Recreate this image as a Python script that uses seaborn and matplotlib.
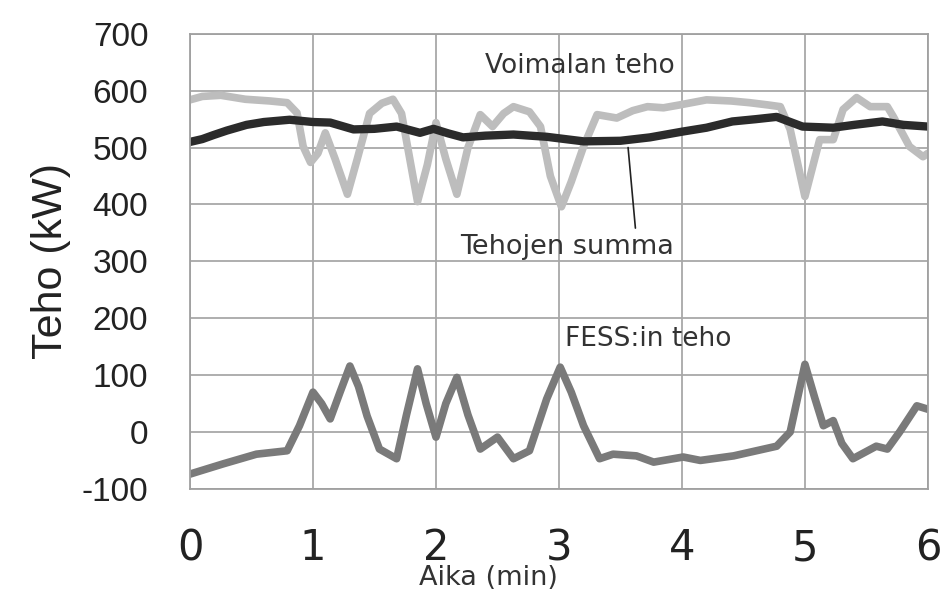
# Voimalan, FESS:n ja summan teho ajan funktiona

import pandas as pd
import matplotlib.pyplot as plt
import seaborn as sns

# luetut arvot kuvasta (aika min, teho kW)
voimala_t = [0, 0.1, 0.25, 0.45, 0.65, 0.79, 0.87, 0.92, 0.98, 1.04, 1.1, 1.18, 1.28, 1.36, 1.46,
             1.56, 1.65, 1.72, 1.85, 1.93, 2.0, 2.08, 2.17, 2.26, 2.36, 2.46, 2.55, 2.63, 2.76,
             2.85, 2.93, 3.02, 3.1, 3.2, 3.31, 3.47, 3.6, 3.72, 3.85, 3.98, 4.2, 4.4, 4.55, 4.7,
             4.8, 4.88, 5.0, 5.12, 5.23, 5.31, 5.42, 5.53, 5.67, 5.72, 5.85, 5.96, 6.0]
voimala_p = [584, 590, 592, 585, 582, 579, 561, 502, 474, 490, 526, 480, 418, 480, 560,
             578, 585, 560, 405, 470, 544, 480, 418, 500, 558, 537, 560, 572, 563,
             537, 450, 396, 440, 502, 558, 552, 565, 572, 570, 575, 584, 582, 579, 575,
             572, 532, 414, 514, 514, 567, 588, 572, 572, 554, 502, 484, 490]

summa_t = [0, 0.1, 0.19, 0.3, 0.46, 0.6, 0.81, 1.0, 1.14, 1.33, 1.5, 1.68, 1.87, 1.98, 2.1,
           2.22, 2.4, 2.63, 2.9, 3.2, 3.5, 3.74, 4.0, 4.2, 4.41, 4.6, 4.77, 4.98, 5.23, 5.4,
           5.63, 5.8, 6.0]
summa_p = [510, 515, 522, 530, 540, 545, 549, 545, 544, 532, 533, 537, 526, 533, 525,
           518, 521, 523, 519, 511, 512, 518, 528, 535, 546, 550, 554, 537, 535, 540,
           546, 540, 537]

fess_t = [0, 0.27, 0.54, 0.79, 0.89, 1.0, 1.07, 1.14, 1.22, 1.3, 1.37, 1.44, 1.54, 1.68, 1.76,
          1.85, 1.92, 2.0, 2.08, 2.17, 2.26, 2.36, 2.5, 2.63, 2.76, 2.9, 3.01, 3.1, 3.2, 3.33,
          3.44, 3.63, 3.77, 4.01, 4.15, 4.42, 4.77, 4.88, 5.0, 5.08, 5.15, 5.23, 5.3, 5.39,
          5.58, 5.67, 5.77, 5.91, 6.0]
fess_p = [-74, -56, -39, -33, 11, 70, 50, 23, 70, 116, 80, 28, -30, -47, 30,
          111, 50, -9, 50, 96, 30, -30, -9, -47, -33, 58, 114, 70, 11, -47,
          -39, -42, -53, -44, -50, -42, -25, 0, 119, 60, 11, 20, -20, -47,
          -25, -30, 0, 46, 40]

x_ticks = [0, 1, 2, 3, 4, 5, 6]
y_ticks = [-100, 0, 100, 200, 300, 400, 500, 600, 700]

df_v = pd.DataFrame({'aika': voimala_t, 'teho': voimala_p})
df_s = pd.DataFrame({'aika': summa_t, 'teho': summa_p})
df_f = pd.DataFrame({'aika': fess_t, 'teho': fess_p})

sns.set_style('white')
plt.rcParams['axes.unicode_minus'] = False

fig = plt.figure(figsize=(9.43, 5.94), dpi=100)
ax = fig.add_axes([0.2015, 0.177, 0.7825, 0.766])

# viivat
sns.lineplot(x='aika', y='teho', data=df_v, color='#bdbdbd', linewidth=5.5, ax=ax)
sns.lineplot(x='aika', y='teho', data=df_f, color='#7a7a7a', linewidth=5.5, ax=ax)
sns.lineplot(x='aika', y='teho', data=df_s, color='#2b2b2b', linewidth=6, ax=ax)

ax.set_xlim(0, 6)
ax.set_ylim(-100, 700)
ax.set_xticks(x_ticks)
ax.set_yticks(y_ticks)
ax.grid(True, color='#a8a8a8', linewidth=1.3)
ax.set_axisbelow(True)
for s in ax.spines.values():
    s.set_color('#a0a0a0')
    s.set_linewidth(1.3)

ax.tick_params(axis='y', length=0, labelsize=24, pad=30, labelcolor='#222222')
ax.tick_params(axis='x', length=7, direction='inout', color='#a0a0a0', labelsize=30,
               pad=24, labelcolor='#222222')
for lab in ax.get_yticklabels():
    lab.set_family(['Liberation Sans', 'DejaVu Sans'])
for lab in ax.get_xticklabels():
    lab.set_family(['Liberation Sans Narrow', 'DejaVu Sans'])

ax.set_xlabel('Aika (min)', fontsize=19.5, color='#333333', va='center',
              family=['Liberation Sans Narrow', 'DejaVu Sans'])
ax.xaxis.set_label_coords(0.404, -0.196)
ax.set_ylabel('Teho (kW)', fontsize=31, color='#222222', labelpad=8,
              family=['Liberation Sans', 'DejaVu Sans'])

# tekstit
ax.text(2.4, 643, 'Voimalan teho', fontsize=19, color='#333333', va='center')
ax.text(3.05, 163, 'FESS:in teho', fontsize=19, color='#333333', va='center')
ax.annotate('Tehojen summa', xy=(3.56, 505), xytext=(2.2, 325), fontsize=19.5,
            color='#333333', va='center',
            arrowprops=dict(arrowstyle='-', color='#222222', lw=1.2,
                            relpos=(0.82, 1.0)))

plt.savefig('out.png', dpi=100)
